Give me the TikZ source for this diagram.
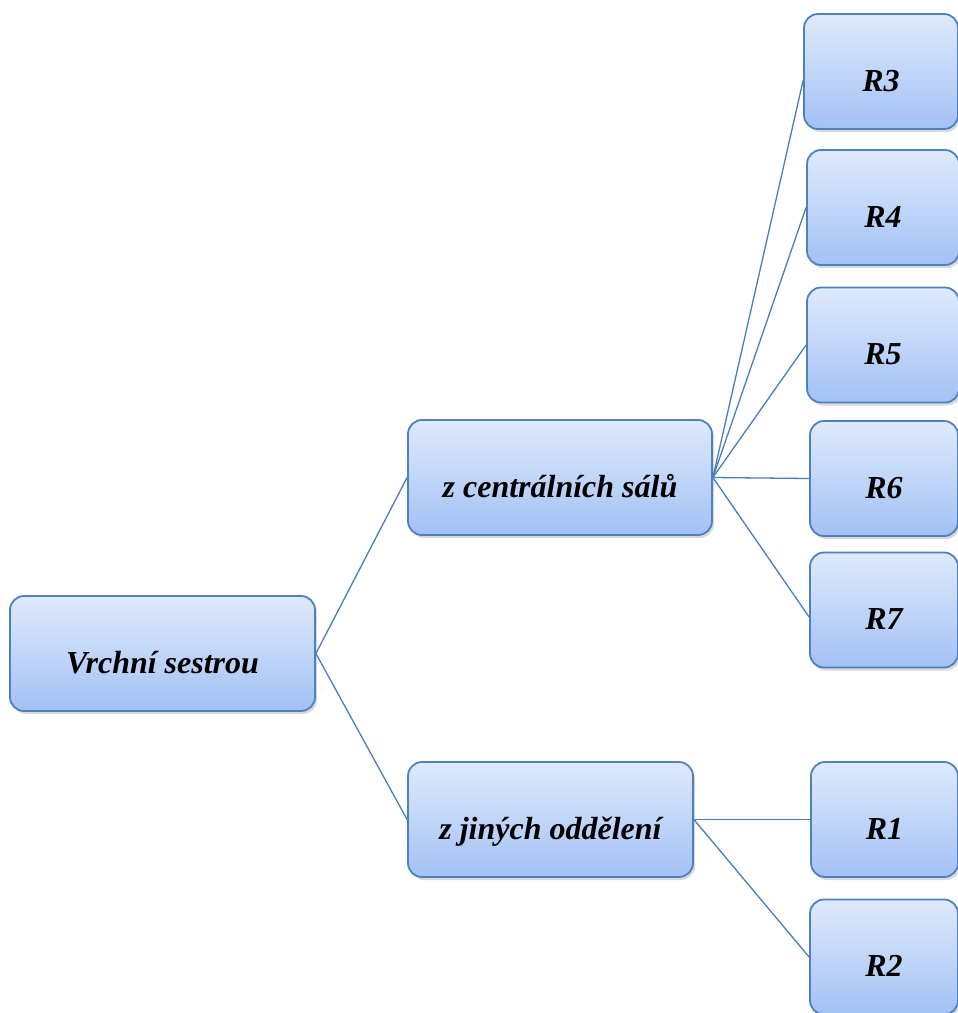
\documentclass[tikz,border=0pt]{standalone}
\usepackage{fontspec}
\setmainfont{Liberation Serif}
\usetikzlibrary{shadows}
\definecolor{boxtop}{RGB}{222,234,252}
\definecolor{boxbot}{RGB}{163,193,245}
\definecolor{boxedge}{RGB}{79,129,189}
\definecolor{linkcol}{RGB}{74,126,187}
\begin{document}
\begin{tikzpicture}[x=1pt,y=-1pt,
  box/.style={draw=boxedge, line width=1.8pt, rounded corners=14pt,
    top color=boxtop, bottom color=boxbot,
    drop shadow={opacity=0.3, shadow xshift=2pt, shadow yshift=-3pt},
    font=\fontsize{32}{36}\selectfont\bfseries\itshape,
    text height=39pt, text depth=0pt, inner sep=0pt,
    minimum height=115pt},
  link/.style={draw=linkcol, line width=1.3pt}]
\useasboundingbox (0,0) rectangle (958,1013);
\node[box, minimum width=305pt] (root) at (162.5,653.5) {Vrchní sestrou};
\node[box, minimum width=304pt] (mid1) at (560,477.5) {z centrálních sálů};
\node[box, minimum width=285pt] (mid2) at (550.5,819.5) {z jiných oddělení};
\node[box, minimum width=154pt] (r3) at (881,71.5) {R3};
\node[box, minimum width=152pt] (r4) at (883,207.5) {R4};
\node[box, minimum width=152pt] (r5) at (883,345) {R5};
\node[box, minimum width=148pt] (r6) at (884,478.5) {R6};
\node[box, minimum width=148pt] (r7) at (884,610) {R7};
\node[box, minimum width=147pt] (r1) at (884.5,819.5) {R1};
\node[box, minimum width=148pt] (r2) at (884,957) {R2};
\draw[link] (root.east) -- (mid1.west);
\draw[link] (root.east) -- (mid2.west);
\draw[link] (mid1.east) -- ([yshift=-9pt]r3.west);
\draw[link] (mid1.east) -- (r4.west);
\draw[link] (mid1.east) -- (r5.west);
\draw[link] (mid1.east) -- (r6.west);
\draw[link] (mid1.east) -- ([yshift=-7pt]r7.west);
\draw[link] (mid2.east) -- (r1.west);
\draw[link] (mid2.east) -- (r2.west);
\end{tikzpicture}
\end{document}
